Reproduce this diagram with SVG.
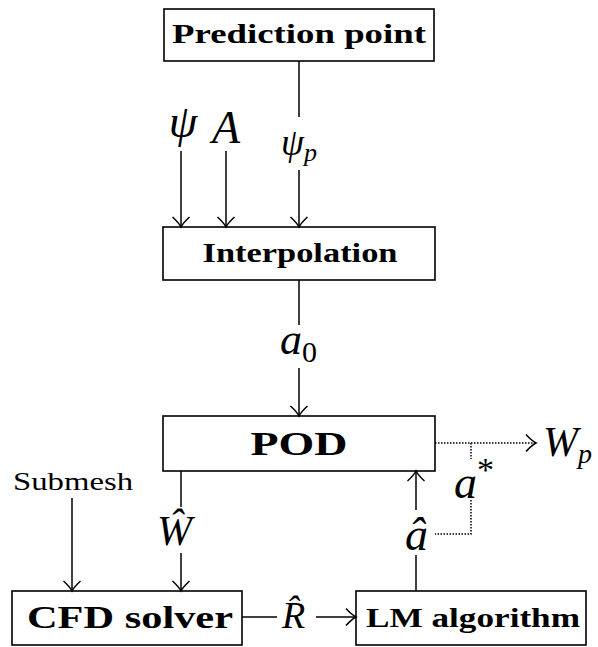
<svg xmlns="http://www.w3.org/2000/svg" width="598" height="647" viewBox="0 0 598 647">
<style>
.box{fill:#fff;stroke:#000;stroke-width:1.6}
.lbl{font-family:'Liberation Serif','Times New Roman',serif;font-weight:bold;text-anchor:middle;fill:#000}
.ln{stroke:#000;stroke-width:1.5;fill:none}
.dot{stroke:#000;stroke-width:1.5;fill:none;stroke-dasharray:1.5 1.5}
.m{font-family:'Liberation Serif','Times New Roman',serif;font-style:italic;fill:#000}
.r{font-family:'Liberation Serif','Times New Roman',serif;font-style:normal;fill:#000}
</style>
<defs>
<marker id="ah" markerUnits="userSpaceOnUse" viewBox="-12 -10 14 20" refX="0" refY="0" markerWidth="14" markerHeight="20" orient="auto" overflow="visible">
<path d="M-10,-8.5 Q-4,-2 0,0 Q-4,2 -10,8.5" fill="none" stroke="#000" stroke-width="1.5"/>
</marker>
</defs>
<rect width="598" height="647" fill="#fff"/>
<g id="prediction">
<rect class="box" x="164" y="9" width="270" height="52"/>
<text class="lbl" x="299" y="43" font-size="27" textLength="254" lengthAdjust="spacingAndGlyphs">Prediction point</text>
</g>
<g id="interpolation">
<rect class="box" x="163" y="227" width="272" height="53"/>
<text class="lbl" x="300" y="262" font-size="27" textLength="195" lengthAdjust="spacingAndGlyphs">Interpolation</text>
</g>
<g id="pod">
<rect class="box" x="163" y="416" width="272" height="55"/>
<text class="lbl" x="299" y="455" font-size="34" textLength="97" lengthAdjust="spacingAndGlyphs">POD</text>
</g>
<g id="cfd">
<rect class="box" x="12" y="591" width="230" height="54"/>
<text class="lbl" x="130" y="628" font-size="32" textLength="206" lengthAdjust="spacingAndGlyphs">CFD solver</text>
</g>
<g id="lm">
<rect class="box" x="356" y="591" width="230" height="54"/>
<text class="lbl" x="473" y="627" font-size="28" textLength="214" lengthAdjust="spacingAndGlyphs">LM algorithm</text>
</g>
<g id="connectors">
<line class="ln" x1="299" y1="61" x2="299" y2="117"/>
<line class="ln" x1="299" y1="170" x2="299" y2="227" marker-end="url(#ah)"/>
<line class="ln" x1="181" y1="151" x2="181" y2="227" marker-end="url(#ah)"/>
<line class="ln" x1="226" y1="151" x2="226" y2="227" marker-end="url(#ah)"/>
<line class="ln" x1="299" y1="280" x2="299" y2="325"/>
<line class="ln" x1="299" y1="368" x2="299" y2="416" marker-end="url(#ah)"/>
<line class="ln" x1="181" y1="471" x2="181" y2="507"/>
<line class="ln" x1="181" y1="553" x2="181" y2="591" marker-end="url(#ah)"/>
<line class="ln" x1="72" y1="498" x2="72" y2="591" marker-end="url(#ah)"/>
<line class="ln" x1="416" y1="591" x2="416" y2="555"/>
<line class="ln" x1="416" y1="510" x2="416" y2="471" marker-end="url(#ah)"/>
<line class="ln" x1="242" y1="617" x2="277" y2="617"/>
<line class="ln" x1="316" y1="617" x2="356" y2="617" marker-end="url(#ah)"/>
<line class="dot" x1="435" y1="443" x2="536" y2="443" marker-end="url(#ah)"/>
<line class="dot" x1="471" y1="443" x2="471" y2="459"/>
<polyline class="dot" points="471,500 471,534 435,534"/>
</g>
<g id="labels">
<text class="m" x="183" y="137" font-size="46" text-anchor="middle">ψ</text>
<text class="m" x="226" y="143" font-size="46" text-anchor="middle">A</text>
<text class="m" x="281" y="155" font-size="37">ψ<tspan font-size="26" dy="6">p</tspan></text>
<text class="m" x="280" y="354" font-size="44">a<tspan class="r" font-size="30" dy="8">0</tspan></text>
<text class="m" x="157" y="545" font-size="42">W&#x302;</text>
<text class="m" x="405" y="550" font-size="46">a&#x302;</text>
<text class="m" x="282" y="628" font-size="38">R&#x302;</text>
<text class="m" x="454" y="498" font-size="46">a<tspan class="r" font-size="34" dy="-17">*</tspan></text>
<text class="m" x="543" y="456" font-size="42">W<tspan font-size="28" dy="7">p</tspan></text>
<text class="r" x="13" y="490" font-size="26" textLength="120" lengthAdjust="spacingAndGlyphs">Submesh</text>
</g>
</svg>
